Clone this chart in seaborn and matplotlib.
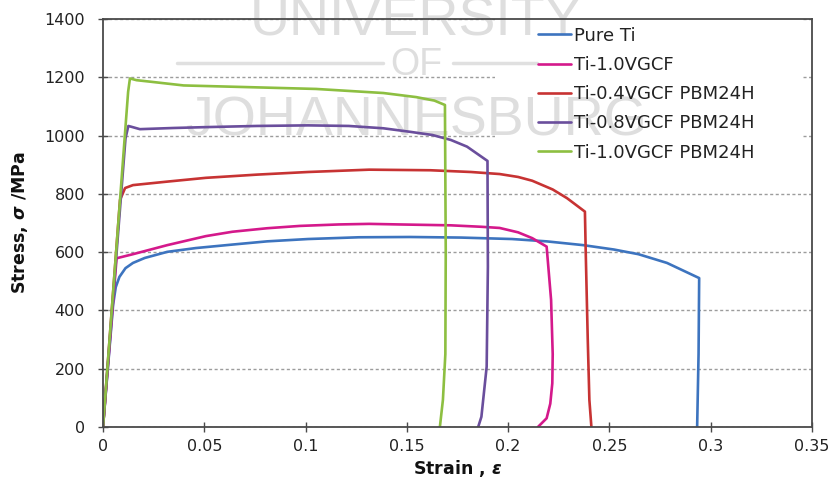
import matplotlib
matplotlib.use("Agg")
import numpy as np
import pandas as pd
import matplotlib.pyplot as plt
import seaborn as sns
from matplotlib.patches import Rectangle
from matplotlib.lines import Line2D

# ---------------- data ----------------
series_names = ["Pure Ti", "Ti-1.0VGCF", "Ti-0.4VGCF PBM24H",
                "Ti-0.8VGCF PBM24H", "Ti-1.0VGCF PBM24H"]
series_colors = ["#3d74bf", "#d4198b", "#c73333", "#6a4e9c", "#8dbf41"]

pure_ti_strain = [0, 0.0050, 0.0063, 0.0081, 0.0111, 0.0148, 0.0206, 0.0317,
                  0.0458, 0.0639, 0.0810, 0.1012, 0.1264, 0.1515, 0.1767, 0.2019,
                  0.2190, 0.2371, 0.2522, 0.2643, 0.2784, 0.2943, 0.2940, 0.2933]
pure_ti_stress = [0, 420, 480, 515, 545, 563, 580, 601, 614, 626, 637, 645, 651,
                  652, 650, 645, 637, 624, 609, 593, 563, 511, 250, 0]

vgcf10_strain = [0, 0.0067, 0.0148, 0.0317, 0.0508, 0.0639, 0.0810, 0.0972,
                 0.1163, 0.1314, 0.1465, 0.1717, 0.1868, 0.1958, 0.2049, 0.2119,
                 0.2190, 0.2212, 0.2220, 0.2218, 0.2208, 0.2190, 0.2147]
vgcf10_stress = [0, 579, 593, 624, 655, 670, 682, 690, 695, 697, 695, 692, 687,
                 683, 668, 648, 619, 436, 250, 150, 80, 30, 0]

pbm04_strain = [0, 0.0084, 0.0109, 0.0148, 0.0317, 0.0508, 0.0760, 0.1012,
                0.1314, 0.1616, 0.1817, 0.1958, 0.2049, 0.2119, 0.2220, 0.2291,
                0.2379, 0.2383, 0.2393, 0.2401, 0.2411]
pbm04_stress = [0, 779, 820, 830, 842, 855, 866, 875, 883, 881, 875, 868, 858,
                845, 815, 785, 739, 600, 300, 93, 0]

pbm08_strain = [0, 0.0111, 0.0125, 0.0141, 0.0182, 0.0347, 0.0508, 0.0760,
                0.1012, 0.1213, 0.1384, 0.1515, 0.1626, 0.1717, 0.1797, 0.1898,
                0.1900, 0.1894, 0.1868, 0.1852]
pbm08_stress = [0, 990, 1033, 1030, 1022, 1026, 1029, 1033, 1035, 1033, 1025,
                1013, 1002, 985, 962, 913, 550, 207, 35, 0]

pbm10_strain = [0, 0.0124, 0.0133, 0.0166, 0.0232, 0.0398, 0.0726, 0.1052,
                0.1384, 0.1546, 0.1636, 0.1688, 0.1692, 0.1690, 0.1678, 0.1663]
pbm10_stress = [0, 1150, 1196, 1190, 1185, 1172, 1166, 1160, 1146, 1132, 1120,
                1105, 600, 250, 93, 0]

x_ticks = [0, 0.05, 0.1, 0.15, 0.2, 0.25, 0.3, 0.35]
x_tick_labels = ["0", "0.05", "0.1", "0.15", "0.2", "0.25", "0.3", "0.35"]
y_ticks = [0, 200, 400, 600, 800, 1000, 1200, 1400]

all_strain = [pure_ti_strain, vgcf10_strain, pbm04_strain, pbm08_strain, pbm10_strain]
all_stress = [pure_ti_stress, vgcf10_stress, pbm04_stress, pbm08_stress, pbm10_stress]

frames = []
for name, xs, ys in zip(series_names, all_strain, all_stress):
    frames.append(pd.DataFrame({"strain": xs, "stress": ys, "series": name}))
df = pd.concat(frames, ignore_index=True)

# ---------------- style ----------------
sns.set_style("ticks")
plt.rcParams["font.family"] = ["DejaVu Sans"]
plt.rcParams["mathtext.fontset"] = "custom"
plt.rcParams["mathtext.it"] = "DejaVu Sans:bold:italic"
plt.rcParams["mathtext.rm"] = "DejaVu Sans:bold"

fig = plt.figure(figsize=(8.34, 4.83), dpi=100)
ax = fig.add_axes([103 / 834, 1 - 427 / 483, 709 / 834, 408 / 483])

sns.lineplot(data=df, x="strain", y="stress", hue="series",
             hue_order=series_names, palette=series_colors, sort=False,
             estimator=None, linewidth=1.9, ax=ax, legend=False, zorder=2)

ax.set_xlim(0, 0.35)
ax.set_ylim(0, 1400)
ax.set_xticks(x_ticks)
ax.set_xticklabels(x_tick_labels)
ax.set_yticks(y_ticks)

ax.set_axisbelow(True)
ax.yaxis.grid(True, linestyle=(0, (2.2, 1.8)), color="#9c9c9c", linewidth=1.0)
ax.xaxis.grid(False)

for sp in ax.spines.values():
    sp.set_visible(True)
    sp.set_color("#4a4a4a")
    sp.set_linewidth(1.3)

ax.tick_params(axis="both", direction="inout", length=7, width=1.0,
               color="#4a4a4a", labelsize=11.5, labelcolor="#222222")
ax.tick_params(axis="x", pad=5)
ax.tick_params(axis="y", pad=9.5)

ax.set_xlabel(r"Strain , $\varepsilon$", fontsize=12.5, fontweight="bold",
              color="#111111", labelpad=3)
ax.set_ylabel(r"Stress, $\sigma$ /MPa", fontsize=12.5, fontweight="bold",
              color="#111111", labelpad=10)

# white legend background that hides the grid
ax.add_patch(Rectangle((0.553, 0.62), 0.433, 0.38, transform=ax.transAxes,
                       facecolor="white", edgecolor="none", zorder=1))

handles = [Line2D([], [], color=c, lw=1.9) for c in series_colors]
leg = ax.legend(handles, series_names, loc="upper left",
                bbox_to_anchor=(0.613, 0.981), frameon=False, fontsize=13,
                handlelength=1.85, handletextpad=0.15, labelspacing=0.62,
                borderpad=0, borderaxespad=0)
for t in leg.get_texts():
    t.set_color("#222222")
leg.set_zorder(5)

# watermark
wm = dict(transform=fig.transFigure, ha="center", va="baseline",
          color="#dedede", family=["Liberation Sans", "DejaVu Sans"],
          zorder=1.5, clip_on=False)
ax.text(416 / 834, 1 - 35 / 483, "UNIVERSITY", fontsize=40, **wm)
ax.text(416 / 834, 1 - 75 / 483, "OF", fontsize=27, **wm)
ax.text(416 / 834, 1 - 136 / 483, "JOHANNESBURG", fontsize=40, **wm)
for x0, x1 in [(177, 383), (453, 537)]:
    ax.add_line(Line2D([x0 / 834, x1 / 834], [1 - 63 / 483, 1 - 63 / 483],
                       transform=fig.transFigure, color="#e0e0e0", lw=2.5,
                       zorder=1.5, clip_on=False))

fig.savefig("out.png", dpi=100)
